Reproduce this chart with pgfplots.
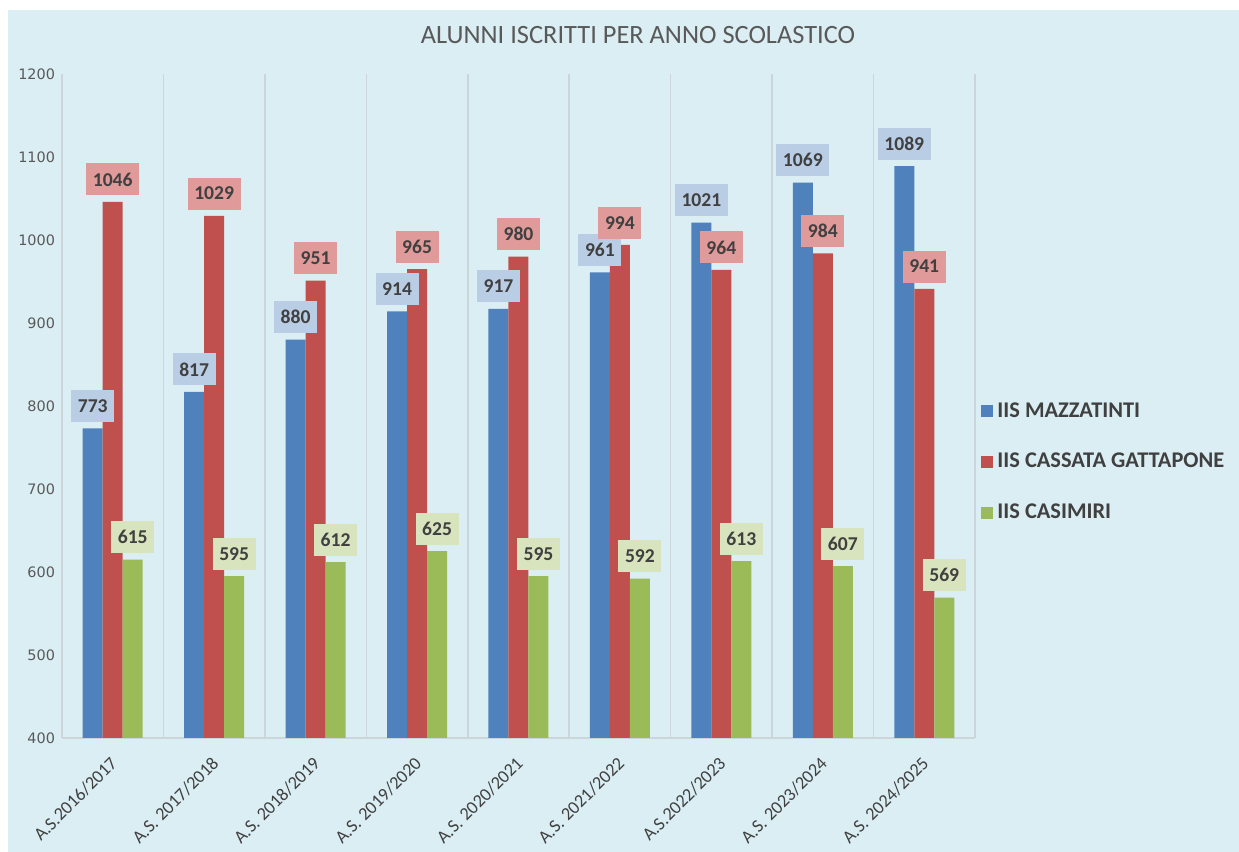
\documentclass[border=0pt]{standalone}
\usepackage{pgfplots}
\pgfplotsset{compat=1.18}
\usepackage{fontspec}
\setmainfont{Carlito}
\newfontfamily\dejavu{DejaVu Sans}
\definecolor{bg}{HTML}{DAEEF3}
\definecolor{gridc}{HTML}{CCD6DA}
\definecolor{cblue}{HTML}{4F81BD}
\definecolor{cred}{HTML}{C0504D}
\definecolor{cgreen}{HTML}{9BBB59}
\definecolor{lblue}{HTML}{B9CDE5}
\definecolor{lred}{HTML}{DF9A99}
\definecolor{lgreen}{HTML}{D7E4BD}
\definecolor{txt}{HTML}{404040}
\definecolor{tickc}{HTML}{595959}
\begin{document}
\begin{tikzpicture}
\fill[white] (0,0) rectangle (619.5pt,426pt);
\fill[bg] (4pt,0) rectangle (619.5pt,421pt);
\node[font=\fontsize{13.2}{15}\selectfont, text=tickc] at (319pt,408.5pt) {ALUNNI ISCRITTI PER ANNO SCOLASTICO};
\begin{axis}[
  at={(31pt,57pt)}, anchor=south west,
  scale only axis, width=456.5pt, height=332pt,
  ybar=0pt, bar width=10pt,
  xmin=-0.5, xmax=8.5, ymin=400, ymax=1200,
  ytick={400,500,...,1200},
  xtick={0,...,8},
  xticklabels={A.S.2016/2017, A.S. 2017/2018, A.S. 2018/2019, A.S. 2019/2020, A.S. 2020/2021, A.S. 2021/2022, A.S.2022/2023, A.S. 2023/2024, A.S. 2024/2025},
  minor xtick={-0.5,0.5,...,8.5},
  xminorgrids, minor grid style={gridc, line width=0.8pt},
  major tick length=0pt, minor tick length=0pt,
  axis lines*=left,
  axis line style={gridc, line width=0.8pt},
  /pgf/number format/assume math mode=true,
  /pgf/number format/1000 sep={},
  yticklabel style={font=\dejavu\fontsize{7.2}{8}\selectfont, text=tickc},
  xticklabel style={font=\fontsize{9.1}{11}\selectfont, text=txt, rotate=45, anchor=north east, xshift=-4pt, yshift=-1.5pt},
  nodes near coords,
  every node near coord/.append style={font=\bfseries\fontsize{9.8}{11}\selectfont, text=txt, inner xsep=3.3pt, inner ysep=0pt, minimum height=16pt, anchor=south, yshift=3pt},
  legend style={at={(rel axis cs:1,0.4157)}, anchor=west, xshift=3pt, draw=none, fill=none, inner sep=0pt, row sep=12.5pt, font=\bfseries\fontsize{11.2}{13}\selectfont, text=txt},
  legend cell align=left,
]
\addplot[fill=cblue, draw=none, every node near coord/.append style={fill=lblue},
  legend image code/.code={\fill[cblue] (0pt,-3pt) rectangle (6pt,3pt);}]
  coordinates {(0,773)(1,817)(2,880)(3,914)(4,917)(5,961)(6,1021)(7,1069)(8,1089)};
\addplot[fill=cred, draw=none, every node near coord/.append style={fill=lred},
  legend image code/.code={\fill[cred] (0pt,-3pt) rectangle (6pt,3pt);}]
  coordinates {(0,1046)(1,1029)(2,951)(3,965)(4,980)(5,994)(6,964)(7,984)(8,941)};
\addplot[fill=cgreen, draw=none, every node near coord/.append style={fill=lgreen},
  legend image code/.code={\fill[cgreen] (0pt,-3pt) rectangle (6pt,3pt);}]
  coordinates {(0,615)(1,595)(2,612)(3,625)(4,595)(5,592)(6,613)(7,607)(8,569)};
\legend{IIS MAZZATINTI, IIS CASSATA GATTAPONE, IIS CASIMIRI}
\end{axis}
\pgfresetboundingbox
\path (0,0) rectangle (619.5pt,426pt);
\end{tikzpicture}
\end{document}
